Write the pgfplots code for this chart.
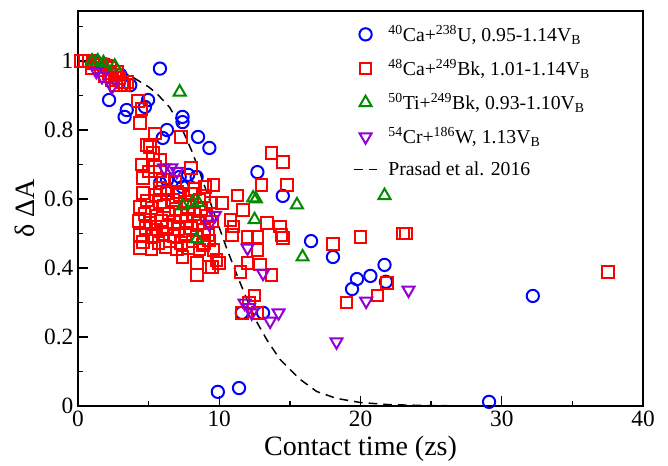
\documentclass[border=0pt]{standalone}
\usepackage{fontspec}
\setmainfont{Liberation Serif}
\usepackage{pgfplots}
\pgfplotsset{compat=1.18}
\definecolor{gblue}{RGB}{0,0,255}
\definecolor{gred}{RGB}{255,0,0}
\definecolor{ggreen}{RGB}{0,139,0}
\definecolor{gviolet}{RGB}{148,0,211}

\begin{document}
\begin{tikzpicture}
\begin{axis}[
    scale only axis,
    width=423.75pt, height=296.25pt,
    xmin=0, xmax=40, ymin=0, ymax=1.145,
    xtick distance=10, minor x tick num=1,
    ytick distance=0.2, minor y tick num=1,
    tick pos=left, tick align=inside,
    major tick length=7.5pt, minor tick length=4pt,
    axis line style={line width=1.3pt},
    every tick/.append style={line width=1.1pt, black},
    /pgf/number format/assume math mode=true,
    tick label style={font=\fontsize{17.5}{18}\selectfont},
    label style={font=\fontsize{21}{24}\selectfont},
    xlabel={Contact time (zs)},
    ylabel={δ ΔA},
    legend style={draw=none, fill=none, at={(0.48,0.978)}, anchor=north west,
        font=\fontsize{14.8}{16}\selectfont, row sep=8pt},
    legend cell align=left,
]
% 40Ca+238U
\addplot[only marks, mark=o, mark size=4.6pt, gblue, line width=1.5pt] coordinates {
    (1.2,1.0) (2.0,0.99) (3.0,0.96) (3.7,0.93) (5.8,0.978) (2.2,0.887)
    (3.45,0.858) (3.3,0.838) (4.96,0.887) (4.74,0.867) (6.3,0.8) (6.0,0.777)
    (7.4,0.838) (7.4,0.823) (8.5,0.78) (9.3,0.748) (12.7,0.678)
    (5.8,0.646) (6.3,0.655) (7.2,0.664) (7.8,0.67) (8.4,0.664) (7.4,0.635) (6.3,0.626)
    (14.5,0.609) (16.5,0.478) (18.05,0.432) (19.75,0.368) (19.4,0.339)
    (20.7,0.377) (21.7,0.409) (21.8,0.36) (32.2,0.319) (29.1,0.012)
    (11.6,0.27) (13.1,0.27) (9.9,0.041) (11.4,0.052)
};
\addlegendentry{\hspace*{6pt}\textsuperscript{40}Ca+\textsuperscript{238}U, 0.95-1.14V\textsubscript{B}}
% 48Ca+249Bk
\addplot[only marks, mark=square, mark size=4.4pt, gred, line width=1.5pt] coordinates {
    (0.2,1.0) (0.5,1.0) (0.8,1.0) (1.1,0.995) (1.4,0.99) (1.7,0.99) (2.0,0.985)
    (2.3,0.98) (1.0,0.98) (1.6,0.975) (2.2,0.965) (2.6,0.96) (2.9,0.95) (2.4,0.945)
    (3.1,0.94) (2.7,0.93) (3.3,0.93) (1.9,0.955) (2.8,0.97) (3.5,0.94)
    (4.25,0.885) (4.5,0.86) (4.4,0.82) (5.45,0.79) (4.9,0.757) (5.1,0.75) (5.3,0.733)
    (5.8,0.713) (4.5,0.70) (7.3,0.78) (4.6,0.66) (5.45,0.693) (5.0,0.68) (5.8,0.68)
    (6.0,0.655) (6.9,0.65) (7.0,0.62) (5.8,0.632) (9.0,0.635) (9.6,0.64) (8.0,0.69) (8.3,0.63)
    (7.4,0.432) (8.4,0.415) (9.5,0.403) (8.4,0.38) (13.7,0.733) (14.5,0.707)
    (13.0,0.64) (14.8,0.64) (11.3,0.61) (11.7,0.568) (10.2,0.588) (13.4,0.53)
    (14.3,0.52) (14.4,0.496) (14.5,0.487) (10.8,0.54) (11.0,0.52) (10.9,0.496)
    (12.0,0.49) (12.7,0.49) (12.7,0.452) (12.0,0.415) (12.9,0.41) (11.5,0.388)
    (13.7,0.38) (12.5,0.32) (9.6,0.452) (9.8,0.423) (10.0,0.415) (9.3,0.403)
    (9.3,0.48) (8.85,0.467) (18.05,0.47) (20.0,0.49) (23.0,0.5) (23.2,0.5)
    (21.9,0.357) (21.2,0.32) (19.0,0.30) (37.5,0.388) (11.6,0.27) (12.7,0.27) (12.1,0.30)
    (4.6,0.617) (5.5,0.612) (6.3,0.618) (7.2,0.611) (8.0,0.616) (8.9,0.609)
    (4.9,0.596) (5.8,0.592) (6.7,0.598) (7.6,0.593) (8.6,0.597) (9.4,0.590)
    (4.4,0.577) (5.2,0.573) (6.1,0.579) (6.9,0.572) (7.8,0.576) (8.7,0.571)
    (4.7,0.556) (5.6,0.552) (6.4,0.558) (7.3,0.553) (8.2,0.557) (9.1,0.551)
    (4.3,0.536) (5.1,0.532) (5.9,0.538) (6.8,0.533) (7.7,0.537) (8.5,0.531) (9.5,0.535)
    (4.8,0.516) (5.5,0.512) (6.3,0.518) (7.1,0.513) (8.0,0.517) (8.9,0.511)
    (4.4,0.496) (5.3,0.492) (6.0,0.498) (6.8,0.493) (7.6,0.497) (8.4,0.491) (9.2,0.495)
    (4.6,0.476) (5.7,0.472) (6.5,0.478) (7.3,0.473) (8.1,0.477) (8.9,0.471)
    (4.4,0.458) (5.2,0.455) (6.2,0.460) (7.0,0.456) (7.8,0.459) (8.6,0.454)
};
\addlegendentry{\hspace*{6pt}\textsuperscript{48}Ca+\textsuperscript{249}Bk, 1.01-1.14V\textsubscript{B}}
% 50Ti+249Bk
\addplot[only marks, mark=triangle, mark size=5.2pt, ggreen, line width=1.5pt] coordinates {
    (1.0,1.0) (1.4,1.0) (1.8,0.995) (2.6,0.985) (7.2,0.91) (7.4,0.58) (8.1,0.59)
    (8.5,0.59) (8.4,0.484) (12.4,0.603) (12.6,0.6) (12.5,0.54) (15.5,0.583)
    (15.9,0.432) (21.7,0.61)
};
\addlegendentry{\hspace*{6pt}\textsuperscript{50}Ti+\textsuperscript{249}Bk, 0.93-1.10V\textsubscript{B}}
% 54Cr+186W
\addplot[only marks, mark=triangle, mark size=5.2pt, gviolet, line width=1.5pt,
    mark options={rotate=180}] coordinates {
    (1.3,0.97) (1.7,0.955) (2.4,0.925) (6.1,0.69) (6.6,0.69) (7.0,0.68)
    (9.7,0.553) (9.3,0.527) (12.0,0.458) (13.1,0.385) (11.8,0.298) (12.1,0.285)
    (12.3,0.27) (13.6,0.246) (14.2,0.27) (18.3,0.186) (20.4,0.304) (23.4,0.336)
};
\addlegendentry{\hspace*{6pt}\textsuperscript{54}Cr+\textsuperscript{186}W, 1.13V\textsubscript{B}}
% Prasad et al. 2016
\addplot[black, line width=1.1pt, dash pattern=on 6.5pt off 4.5pt, mark=none] coordinates {
    (0,1.0) (1,0.995) (2,0.985) (3,0.972) (4,0.95) (5,0.925) (5.6,0.905)
    (6.5,0.865) (7.4,0.8) (8.1,0.735) (8.6,0.68) (9.2,0.61) (9.8,0.54)
    (10.5,0.46) (11.3,0.375) (12.0,0.305) (12.7,0.24) (13.4,0.19) (14.3,0.135)
    (15.7,0.078) (16.9,0.042) (18.3,0.022) (20,0.01) (22,0.004) (25,0.001)
    (30,0) (40,0)
};
\addlegendentry{\hspace*{6pt}Prasad et al. 2016}
\end{axis}
\path (current axis.south west) ++(-58.5pt,-40.5pt) rectangle ([shift={(18.75pt,8.25pt)}]current axis.north east);
\end{tikzpicture}
\end{document}
